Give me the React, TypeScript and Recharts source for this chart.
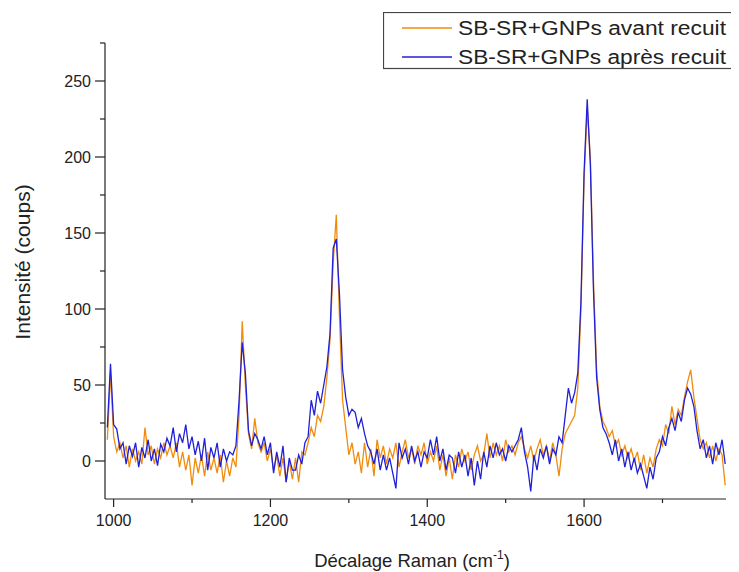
import React from 'react';
import { LineChart, Line, XAxis, YAxis } from 'recharts';

const ramanShift: number[] = [
  992, 996, 1000, 1004, 1008, 1012, 1016, 1020, 1024, 1028,
  1032, 1036, 1040, 1044, 1048, 1052, 1056, 1060, 1064, 1068,
  1072, 1076, 1080, 1084, 1088, 1092, 1096, 1100, 1104, 1108,
  1112, 1116, 1120, 1124, 1128, 1132, 1136, 1140, 1144, 1148,
  1152, 1156, 1160, 1164, 1168, 1172, 1176, 1180, 1184, 1188,
  1192, 1196, 1200, 1204, 1208, 1212, 1216, 1220, 1224, 1228,
  1232, 1236, 1240, 1244, 1248, 1252, 1256, 1260, 1264, 1268,
  1272, 1276, 1280, 1284, 1288, 1292, 1296, 1300, 1304, 1308,
  1312, 1316, 1320, 1324, 1328, 1332, 1336, 1340, 1344, 1348,
  1352, 1356, 1360, 1364, 1368, 1372, 1376, 1380, 1384, 1388,
  1392, 1396, 1400, 1404, 1408, 1412, 1416, 1420, 1424, 1428,
  1432, 1436, 1440, 1444, 1448, 1452, 1456, 1460, 1464, 1468,
  1472, 1476, 1480, 1484, 1488, 1492, 1496, 1500, 1504, 1508,
  1512, 1516, 1520, 1524, 1528, 1532, 1536, 1540, 1544, 1548,
  1552, 1556, 1560, 1564, 1568, 1572, 1576, 1580, 1584, 1588,
  1592, 1596, 1600, 1604, 1608, 1612, 1616, 1620, 1624, 1628,
  1632, 1636, 1640, 1644, 1648, 1652, 1656, 1660, 1664, 1668,
  1672, 1676, 1680, 1684, 1688, 1692, 1696, 1700, 1704, 1708,
  1712, 1716, 1720, 1724, 1728, 1732, 1736, 1740, 1744, 1748,
  1752, 1756, 1760, 1764, 1768, 1772, 1776, 1780,
];

const avantRecuit: number[] = [
  14, 58, 16, 6, 12, 2, 10, -4, 8, 0,
  6, -2, 22, 4, 10, -2, 8, 2, 12, 4,
  10, 2, 12, -4, 6, -6, 4, -16, 2, -8,
  4, -10, 6, -6, 2, -8, 4, -14, 0, -10,
  2, -4, 30, 92, 50, 18, 8, 28, 12, 6,
  12, 0, 8, -6, 4, -10, 2, -14, 0, -12,
  2, -14, 6, 4, 12, 22, 16, 30, 26, 36,
  55, 80, 130, 162, 95, 40, 22, 4, 12, -2,
  6, -8, 12, -4, 8, -10, 14, 2, 10, -2,
  8, 2, 12, -4, 6, 14, 2, 8, -2, 10,
  4, 12, -2, 6, 0, 10, -6, 4, -10, 2,
  -12, 4, -4, 8, 0, 6, -6, 4, 10, 0,
  4, 18, 2, 12, 4, 10, 0, 14, 6, 10,
  4, 12, 16, 8, 2, 10, 0, 8, 14, 4,
  10, 0, 12, 4, -10, 8, 18, 22, 26, 30,
  48, 100, 185, 232, 200, 118, 60, 36, 26, 22,
  16, 20, 10, 14, 4, 10, 2, 8, 0, 6,
  -6, 4, -8, 2, -4, 8, 14, 10, 24, 18,
  36, 24, 34, 30, 42, 52, 60, 42, 28, 14,
  8, 12, 2, 10, 0, 8, 4, -16,
];

const apresRecuit: number[] = [
  22, 64, 24, 21, 8, 12, -2, 10, 3, 12,
  -4, 9, 2, 14, 0, 8, -3, 11, 6, 15,
  10, 22, 6, 18, 12, 24, 8, 16, 4, 13,
  0, 15, -6, 9, 2, 12, -4, 8, 0, 6,
  4, 10, 40, 78, 58, 20, 10, 18, 14, 8,
  16, 4, 12, -8, 6, -4, 10, -14, 2, -6,
  -6, 4, -2, 12, 16, 40, 30, 46, 38, 50,
  62, 84, 140, 146, 110, 60, 42, 30, 34, 32,
  22, 28, 18, 10, 6, -2, 8, -6, 4, -6,
  2, -8, -18, 12, 2, 8, -2, 10, 0, 6,
  -4, 6, 2, 14, 4, 16, 0, 8, -6, 4,
  2, -8, 6, -4, 4, -10, 2, -16, 0, -12,
  6, -4, 10, 2, 12, 4, 8, 0, 10, 6,
  10, 14, 22, 6, -4, -20, 4, -6, 8, 2,
  10, -2, 8, 4, 16, 12, 30, 48, 38, 45,
  58, 105, 190, 238, 195, 112, 55, 34, 22, 18,
  12, 4, 14, 0, 8, -4, 6, -6, 2, -8,
  -2, -10, -18, -4, -12, 2, 6, 16, 10, 22,
  28, 20, 32, 26, 40, 48, 44, 36, 20, 8,
  14, 2, 10, -2, 12, 4, 14, -2,
];

const yTicks: number[] = [0, 25, 50, 75, 100, 125, 150, 175, 200, 225, 250, 275];
const xTicks: number[] = [1000, 1100, 1200, 1300, 1400, 1500, 1600, 1700];

const seriesNames = ['SB-SR+GNPs avant recuit', 'SB-SR+GNPs après recuit'];
const ORANGE = '#F08C0C';
const BLUE = '#2020D8';
const FONT = '"Liberation Sans", Arial, sans-serif';

const data = ramanShift.map((x, i) => ({ x, avant: avantRecuit[i], apres: apresRecuit[i] }));

const YTick = (props: any) => {
  const { x, y, payload } = props;
  const v = payload.value;
  const major = v % 50 === 0;
  return (
    <g>
      <line x1={x - (major ? 10 : 5)} x2={x} y1={y} y2={y} stroke="#222" strokeWidth={1.2} />
      {major && (
        <text x={x - 14} y={y} dy="0.36em" textAnchor="end" fontSize={16} fill="#222" fontFamily={FONT}>
          {v}
        </text>
      )}
    </g>
  );
};

const XTick = (props: any) => {
  const { x, y, payload } = props;
  const v = payload.value;
  const major = v % 200 === 0;
  return (
    <g>
      <line x1={x} x2={x} y1={y} y2={y + (major ? 8 : 4)} stroke="#222" strokeWidth={1.2} />
      {major && (
        <text x={x} y={y + 21} dy="0.36em" textAnchor="middle" fontSize={16} fill="#222" fontFamily={FONT}>
          {v}
        </text>
      )}
    </g>
  );
};

const YTitle = () => (
  <text
    x={14}
    y={254}
    transform="rotate(-90 14 254)"
    textAnchor="middle"
    dy="0.36em"
    fontSize={21}
    fill="#222"
    fontFamily={FONT}
  >
    Intensité (coups)
  </text>
);

const XTitle = () => (
  <text x={404} y={559} textAnchor="middle" fontSize={18.5} fill="#222" fontFamily={FONT}>
    Décalage Raman (cm
    <tspan dy={-8} fontSize={12}>-1</tspan>
    <tspan dy={8}>)</tspan>
  </text>
);

const LegendBox = () => (
  <div style={{ position: 'absolute', left: 375, top: 4, width: 356, height: 58 }}>
    <svg width={356} height={58}>
      <rect x={0.5} y={0.5} width={354} height={56} fill="#fff" stroke="#444" strokeWidth={1.2} />
      <line x1={19} x2={69} y1={16} y2={16} stroke={ORANGE} strokeWidth={1.3} />
      <text x={75} y={23} fontSize={20} fill="#222" fontFamily={FONT} textLength={268} lengthAdjust="spacingAndGlyphs">
        {seriesNames[0]}
      </text>
      <line x1={19} x2={69} y1={45} y2={45} stroke={BLUE} strokeWidth={1.3} />
      <text x={75} y={52} fontSize={20} fill="#222" fontFamily={FONT} textLength={268} lengthAdjust="spacingAndGlyphs">
        {seriesNames[1]}
      </text>
    </svg>
  </div>
);

export default function App() {
  return (
    <div style={{ position: 'relative', width: 731, height: 564, background: '#fff' }}>
      <LineChart width={731} height={564} data={data} margin={{ top: 35, right: 13, bottom: 33, left: 37 }}>
        <XAxis
          dataKey="x"
          type="number"
          domain={[989, 1781]}
          ticks={xTicks}
          tick={<XTick />}
          tickSize={0}
          tickMargin={0}
          tickLine={false}
          axisLine={{ stroke: '#222', strokeWidth: 1.2 }}
          height={40}
          interval={0}
          allowDataOverflow
          label={{ content: () => <XTitle /> }}
        />
        <YAxis
          type="number"
          domain={[-25, 275]}
          ticks={yTicks}
          tick={<YTick />}
          tickSize={0}
          tickMargin={0}
          tickLine={false}
          axisLine={{ stroke: '#222', strokeWidth: 1.2 }}
          width={60}
          interval={0}
          allowDataOverflow
          label={{ content: () => <YTitle /> }}
        />
        <Line type="linear" dataKey="avant" name={seriesNames[0]} stroke={ORANGE} strokeWidth={1.3} dot={false} isAnimationActive={false} />
        <Line type="linear" dataKey="apres" name={seriesNames[1]} stroke={BLUE} strokeWidth={1.3} dot={false} isAnimationActive={false} />
      </LineChart>
      <LegendBox />
    </div>
  );
}
